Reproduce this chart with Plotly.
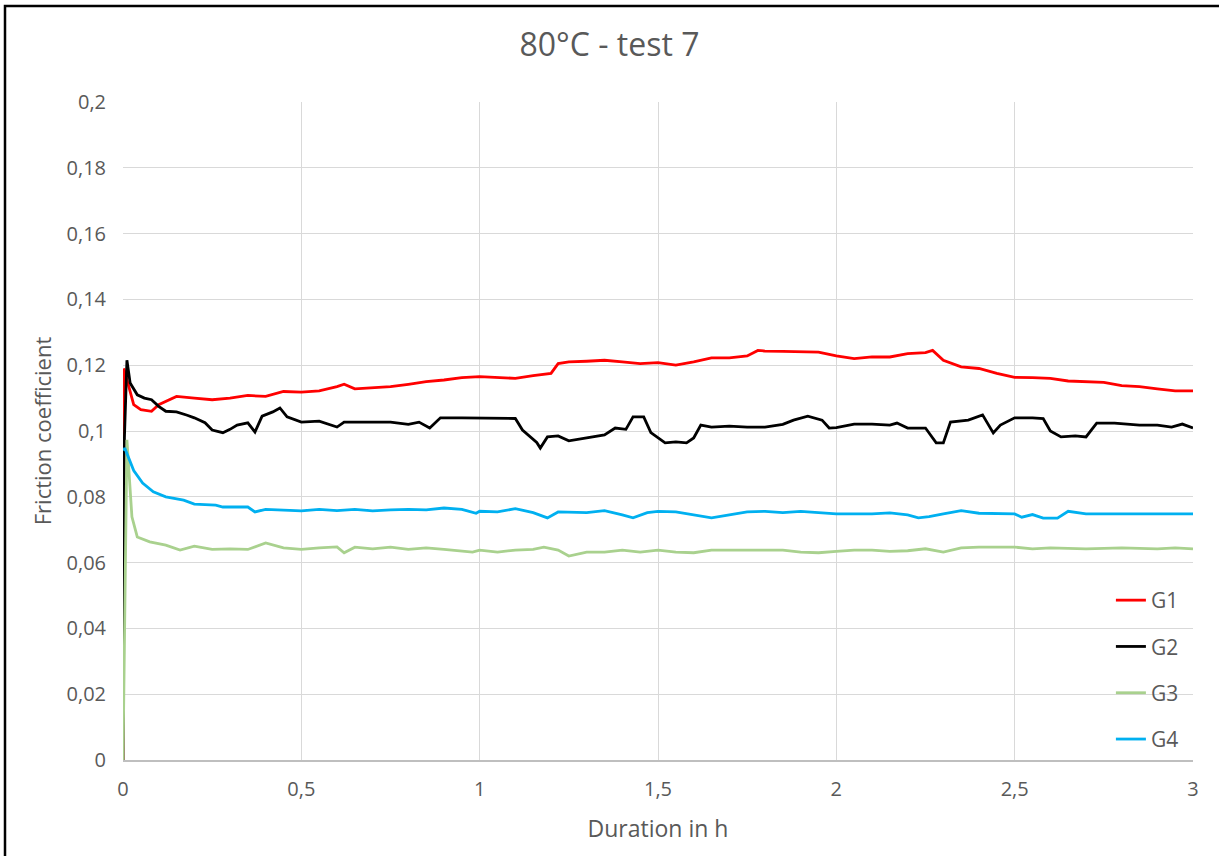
import plotly.graph_objects as go

# ---- data ----
g1_x = [0, 0.002, 0.01, 0.03, 0.05, 0.08, 0.1, 0.12, 0.15, 0.2, 0.25, 0.3, 0.35, 0.4, 0.45, 0.5,
        0.55, 0.6, 0.62, 0.65, 0.7, 0.75, 0.8, 0.85, 0.9, 0.95, 1.0, 1.05, 1.1, 1.15, 1.2, 1.22,
        1.25, 1.3, 1.35, 1.4, 1.45, 1.5, 1.55, 1.6, 1.65, 1.7, 1.75, 1.78, 1.8, 1.85, 1.9, 1.95,
        2.0, 2.05, 2.1, 2.15, 2.2, 2.25, 2.27, 2.3, 2.35, 2.4, 2.45, 2.5, 2.55, 2.6, 2.65, 2.7,
        2.75, 2.8, 2.85, 2.9, 2.95, 3.0]
g1_y = [0, 0.119, 0.116, 0.108, 0.1065, 0.106, 0.108, 0.109, 0.1105, 0.110, 0.1095, 0.110, 0.1108,
        0.1105, 0.112, 0.1118, 0.1122, 0.1135, 0.1142, 0.1128, 0.1132, 0.1135, 0.1142, 0.115, 0.1155,
        0.1162, 0.1165, 0.1163, 0.116, 0.1168, 0.1175, 0.1205, 0.121, 0.1212, 0.1215, 0.121, 0.1205,
        0.1208, 0.12, 0.121, 0.1222, 0.1222, 0.1228, 0.1245, 0.1243, 0.1242, 0.1242, 0.124, 0.1228,
        0.122, 0.1225, 0.1225, 0.1235, 0.1238, 0.1245, 0.1215, 0.1195, 0.119, 0.1175, 0.1163, 0.1162,
        0.116, 0.1152, 0.115, 0.1148, 0.1138, 0.1135, 0.1128, 0.1122, 0.1122]

g2_x = [0, 0.004, 0.011, 0.02, 0.04, 0.06, 0.08, 0.1, 0.12, 0.15, 0.18, 0.2, 0.23, 0.25, 0.28, 0.3,
        0.32, 0.35, 0.37, 0.39, 0.42, 0.44, 0.46, 0.5, 0.55, 0.6, 0.62, 0.7, 0.75, 0.8, 0.83, 0.86,
        0.89, 0.95, 1.0, 1.05, 1.1, 1.12, 1.16, 1.17, 1.19, 1.22, 1.25, 1.3, 1.35, 1.38, 1.41, 1.43,
        1.46, 1.48, 1.52, 1.55, 1.58, 1.6, 1.62, 1.65, 1.7, 1.75, 1.8, 1.85, 1.88, 1.92, 1.96, 1.98,
        2.0, 2.05, 2.1, 2.15, 2.17, 2.2, 2.25, 2.28, 2.3, 2.32, 2.37, 2.41, 2.44, 2.46, 2.5, 2.55,
        2.58, 2.6, 2.63, 2.67, 2.7, 2.73, 2.78, 2.85, 2.9, 2.94, 2.97, 3.0]
g2_y = [0, 0.098, 0.1215, 0.1146, 0.111, 0.110, 0.1095, 0.1075, 0.106, 0.1058, 0.1048, 0.104, 0.1025,
        0.1003, 0.0995, 0.1005, 0.1018, 0.1025, 0.0997, 0.1045, 0.1058, 0.107, 0.1043, 0.1027, 0.103,
        0.1012, 0.1027, 0.1027, 0.1027, 0.102, 0.1027, 0.1009, 0.104, 0.104, 0.104, 0.104, 0.1038,
        0.1003, 0.0965, 0.0948, 0.0982, 0.0985, 0.097, 0.0979, 0.0988, 0.1009, 0.1005, 0.1043, 0.1043,
        0.0995, 0.0964, 0.0967, 0.0964, 0.0979, 0.1018, 0.1012, 0.1015, 0.1012, 0.1012, 0.102, 0.1033,
        0.1045, 0.1033, 0.1009, 0.101, 0.1021, 0.1021, 0.1018, 0.1024, 0.1009, 0.1009, 0.0964, 0.0964,
        0.1027, 0.1033, 0.1049, 0.0994, 0.1018, 0.104, 0.104, 0.1038, 0.1, 0.0982, 0.0985, 0.0982,
        0.1024, 0.1024, 0.1018, 0.1018, 0.1012, 0.1021, 0.1009]

g3_x = [0, 0.011, 0.025, 0.04, 0.075, 0.12, 0.16, 0.2, 0.25, 0.3, 0.35, 0.4, 0.45, 0.5, 0.55, 0.6,
        0.62, 0.65, 0.7, 0.75, 0.8, 0.85, 0.9, 0.98, 1.0, 1.05, 1.1, 1.15, 1.18, 1.22, 1.25, 1.3,
        1.35, 1.4, 1.45, 1.5, 1.55, 1.6, 1.65, 1.7, 1.75, 1.8, 1.85, 1.9, 1.95, 2.0, 2.05, 2.1, 2.15,
        2.2, 2.25, 2.3, 2.35, 2.4, 2.5, 2.55, 2.6, 2.7, 2.8, 2.9, 2.95, 3.0]
g3_y = [0, 0.0973, 0.0739, 0.0678, 0.0663, 0.0653, 0.0638, 0.065, 0.064, 0.0642, 0.064, 0.066, 0.0645,
        0.064, 0.0645, 0.0648, 0.063, 0.0647, 0.0642, 0.0647, 0.064, 0.0645, 0.064, 0.0632, 0.0638,
        0.0632, 0.0638, 0.064, 0.0647, 0.0638, 0.062, 0.0632, 0.0632, 0.0638, 0.0632, 0.0638, 0.0632,
        0.063, 0.0638, 0.0638, 0.064, 0.064, 0.0638, 0.0632, 0.063, 0.0634, 0.0638, 0.0638, 0.0634,
        0.0636, 0.0642, 0.0632, 0.0645, 0.0647, 0.0647, 0.0642, 0.0645, 0.0642, 0.0645, 0.0642, 0.0645,
        0.0642]

g4_x = [0.002, 0.005, 0.03, 0.055, 0.085, 0.12, 0.17, 0.2, 0.26, 0.28, 0.35, 0.37, 0.4, 0.45, 0.5,
        0.55, 0.6, 0.65, 0.7, 0.75, 0.8, 0.85, 0.9, 0.95, 0.99, 1.0, 1.05, 1.1, 1.15, 1.19, 1.22, 1.3,
        1.35, 1.4, 1.43, 1.47, 1.5, 1.55, 1.6, 1.65, 1.7, 1.75, 1.8, 1.85, 1.9, 1.95, 2.0, 2.05, 2.1,
        2.15, 2.2, 2.23, 2.26, 2.3, 2.35, 2.4, 2.45, 2.5, 2.52, 2.55, 2.58, 2.62, 2.65, 2.68, 2.7,
        2.8, 2.9, 3.0]
g4_y = [0.094, 0.0948, 0.088, 0.0842, 0.0815, 0.080, 0.079, 0.0778, 0.0775, 0.0769, 0.0769, 0.0754,
        0.0762, 0.076, 0.0757, 0.0762, 0.0758, 0.0762, 0.0757, 0.076, 0.0762, 0.076, 0.0766, 0.0762,
        0.075, 0.0756, 0.0754, 0.0764, 0.0752, 0.0736, 0.0754, 0.0752, 0.0758, 0.0745, 0.0736, 0.0752,
        0.0756, 0.0754, 0.0745, 0.0736, 0.0745, 0.0754, 0.0756, 0.0752, 0.0756, 0.0752, 0.0748, 0.0748,
        0.0748, 0.0751, 0.0745, 0.0736, 0.074, 0.0748, 0.0758, 0.075, 0.0748, 0.0748, 0.0738, 0.0746,
        0.0735, 0.0735, 0.0756, 0.0752, 0.0748, 0.0748, 0.0748, 0.0748]

series_names = ["G1", "G2", "G3", "G4"]
series_colors = ["#ff0000", "#000000", "#a9d18e", "#00b0f0"]

y_tickvals = [0, 0.02, 0.04, 0.06, 0.08, 0.1, 0.12, 0.14, 0.16, 0.18, 0.2]
y_ticktext = ["0", "0,02", "0,04", "0,06", "0,08", "0,1", "0,12", "0,14", "0,16", "0,18", "0,2"]
x_tickvals = [0, 0.5, 1, 1.5, 2, 2.5, 3]
x_ticktext = ["0", "0,5", "1", "1,5", "2", "2,5", "3"]

FONT = "Open Sans"
GREY = "#595959"

fig = go.Figure()
for name, color, xs, ys in zip(series_names, series_colors,
                               [g1_x, g2_x, g3_x, g4_x], [g1_y, g2_y, g3_y, g4_y]):
    fig.add_trace(go.Scatter(x=xs, y=ys, mode="lines", name=name, legendgroup=name,
                             line=dict(color=color, width=2.8)))

fig.update_layout(
    width=1219, height=856,
    margin=dict(l=123, r=26, t=102, b=96),
    paper_bgcolor="white", plot_bgcolor="white",
    font=dict(family=FONT, size=18, color=GREY),
    title=dict(text="80°C - test 7", x=0.5, xref="container", xanchor="center",
               y=1 - 45 / 856, yref="container", yanchor="middle",
               font=dict(family=FONT, size=32, color=GREY)),
    showlegend=True,
    legend=dict(x=0.9915, xanchor="right", y=0.0, yanchor="bottom",
                bgcolor="rgba(0,0,0,0)", tracegroupgap=16,
                font=dict(family=FONT, size=21, color=GREY)),
)
fig.update_xaxes(range=[0, 3], tickvals=x_tickvals, ticktext=x_ticktext,
                 showgrid=True, gridcolor="#d9d9d9", gridwidth=1,
                 showline=True, linecolor="#bfbfbf", linewidth=1.5,
                 zeroline=False, ticks="", ticklabelstandoff=10,
                 tickfont=dict(family=FONT, size=20, color=GREY),
                 title=dict(text="Duration in h", standoff=20,
                            font=dict(family=FONT, size=23, color=GREY)))
fig.update_yaxes(range=[0, 0.2], tickvals=y_tickvals, ticktext=y_ticktext,
                 showgrid=True, gridcolor="#d9d9d9", gridwidth=1,
                 showline=False, zeroline=False, ticks="", ticklabelstandoff=16,
                 tickfont=dict(family=FONT, size=20, color=GREY),
                 title=dict(text="Friction coefficient", standoff=8,
                            font=dict(family=FONT, size=22, color=GREY)))

# outer black frame of the original image
fig.add_shape(type="rect", xref="paper", yref="paper",
              x0=(5 - 123) / 1070, x1=(1240 - 123) / 1070,
              y0=(760 - 880) / 658, y1=(760 - 6) / 658,
              line=dict(color="black", width=2.5), fillcolor="rgba(0,0,0,0)", layer="above")

fig.write_html("out.html", config={"displayModeBar": False},
               post_script="document.body.style.margin='0';document.body.style.padding='0';")
